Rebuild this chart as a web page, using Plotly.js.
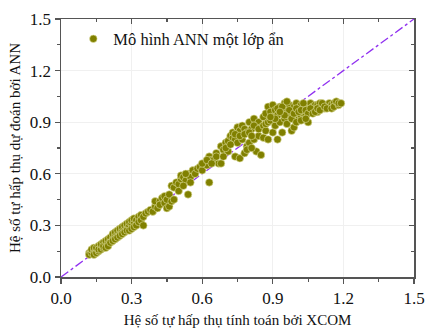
<!DOCTYPE html>
<html><head><meta charset="utf-8">
<script src="https://cdn.plot.ly/plotly-3.0.1.min.js"></script>
<style>html,body{margin:0;padding:0;background:#fff}#chart{width:427px;height:329px}</style>
</head><body><div id="chart"></div>
<script>
const seriesName = "Mô hình ANN một lớp ẩn";
// low band
const lowX = [0.12,0.12,0.13,0.13,0.13,0.14,0.14,0.14,0.15,0.15,0.15,0.16,0.16,0.16,0.17,0.17,0.17,0.18,0.18,0.18,0.19,0.19,0.19,0.20,0.20,0.20,0.21,0.21,0.21,0.22,0.22,0.22,0.23,0.23,0.23,0.24,0.24,0.24,0.25,0.25,0.25,0.26,0.26,0.26,0.27,0.27,0.27,0.28,0.28,0.28,0.29,0.29,0.29,0.30,0.30,0.30,0.31,0.31,0.31,0.32,0.32,0.33,0.33,0.34,0.34,0.35,0.35,0.36];
const lowY = [0.14,0.13,0.15,0.14,0.16,0.15,0.13,0.17,0.16,0.14,0.17,0.15,0.18,0.16,0.18,0.16,0.19,0.17,0.20,0.18,0.19,0.21,0.17,0.20,0.22,0.18,0.21,0.23,0.20,0.22,0.25,0.21,0.24,0.22,0.26,0.25,0.23,0.27,0.26,0.24,0.28,0.27,0.25,0.29,0.28,0.26,0.30,0.29,0.27,0.31,0.30,0.27,0.32,0.31,0.28,0.33,0.32,0.29,0.34,0.33,0.30,0.35,0.32,0.36,0.33,0.30,0.35,0.37];
// middle part
const midX = [0.37,0.38,0.39,0.40,0.40,0.41,0.42,0.42,0.43,0.44,0.44,0.45,0.45,0.46,0.46,0.47,0.47,0.48,0.48,0.49,0.50,0.51,0.51,0.52,0.53,0.54,0.54,0.55,0.56,0.57,0.58,0.59,0.60,0.61,0.62,0.63,0.63,0.64,0.65,0.66,0.67,0.68,0.68,0.69,0.70,0.71,0.71,0.72,0.73,0.73,0.74,0.74,0.75,0.75,0.76,0.76,0.77,0.77,0.78,0.78,0.79,0.79,0.80,0.80,0.81,0.82,0.82,0.83,0.83,0.84,0.84,0.85,0.85,0.86,0.86];
const midY = [0.38,0.39,0.38,0.41,0.44,0.40,0.44,0.42,0.46,0.47,0.43,0.40,0.45,0.41,0.48,0.44,0.53,0.45,0.52,0.55,0.54,0.57,0.59,0.58,0.56,0.48,0.60,0.58,0.62,0.60,0.63,0.64,0.62,0.66,0.65,0.55,0.70,0.68,0.68,0.72,0.66,0.66,0.76,0.74,0.78,0.79,0.73,0.82,0.81,0.84,0.70,0.80,0.87,0.78,0.69,0.85,0.88,0.80,0.72,0.86,0.76,0.84,0.78,0.90,0.86,0.92,0.80,0.73,0.88,0.90,0.82,0.87,0.71,0.81,0.93];
const mid2X = [0.50,0.52,0.53,0.55,0.60,0.62,0.64,0.66,0.69,0.70,0.72,0.74,0.76,0.78,0.79,0.80,0.81,0.81,0.82,0.84,0.86,0.87];
const mid2Y = [0.50,0.53,0.60,0.55,0.66,0.68,0.66,0.70,0.70,0.75,0.77,0.83,0.82,0.83,0.74,0.84,0.82,0.75,0.88,0.86,0.88,0.85];
// upper cluster
const highX = [0.87,0.87,0.88,0.88,0.88,0.89,0.89,0.90,0.90,0.90,0.91,0.91,0.92,0.92,0.93,0.93,0.94,0.94,0.95,0.95,0.96,0.96,0.97,0.97,0.98,0.98,0.99,0.99,1.00,1.00,1.01,1.01,1.02,1.02,1.03,1.03,1.04,1.04,1.05,1.05,1.06,1.06,1.07,1.07,1.08,1.08,1.09,1.09,1.10,1.10,1.11,1.12,1.12,1.13,1.14,1.14,1.15,1.16,1.17];
const highY = [0.95,0.89,0.99,0.80,0.90,0.91,0.96,0.93,0.84,1.00,0.97,0.88,0.80,0.94,0.99,0.90,0.84,0.96,1.01,0.92,0.98,0.89,1.00,0.94,0.85,0.96,0.87,0.99,0.95,1.01,0.92,0.98,0.93,1.00,0.97,0.95,0.99,0.94,0.90,1.00,0.96,1.01,0.99,0.97,0.98,1.00,0.96,1.00,0.98,1.01,0.99,1.00,0.98,1.00,0.99,1.01,1.00,1.01,1.00];
const high2X = [0.92,0.94,0.96,0.97,0.98,0.99,1.00,1.01,1.02,1.03,1.04,1.05,1.06,1.07,1.08,1.09,1.10,1.11,1.12,1.13,1.15,1.16,1.17,1.18,1.18,1.19,0.95,0.93,0.91,0.89,1.00,1.02,1.04];
const high2Y = [0.98,0.99,1.02,0.97,0.92,0.95,0.98,0.96,0.97,1.01,0.97,0.95,0.98,0.95,0.96,0.98,0.97,1.01,0.99,0.98,0.98,0.99,1.02,1.00,1.01,1.01,0.94,0.96,0.92,0.93,0.90,0.91,0.92];
const xcom = lowX.concat(midX, mid2X, highX, high2X);
const ann = lowY.concat(midY, mid2Y, highY, high2Y);

const refX = [0, 1.5];
const refY = [0, 1.5];
const tickVals = [0, 0.3, 0.6, 0.9, 1.2, 1.5];
const tickText = ["0.0", "0.3", "0.6", "0.9", "1.2", "1.5"];
const xTitle = "Hệ số tự hấp thụ tính toán bởi XCOM";
const yTitle = "Hệ số tự hấp thụ dự đoán bởi ANN";

const fam = "Liberation Serif, serif";
const font = {family: fam, size: 15, color: "#111"};
const tickFont = {family: fam, size: 17, color: "#111"};
const legFont = {family: fam, size: 16.5, color: "#111"};
const axColor = "#555";
const baseAxis = {
  range: [0, 1.5], tickvals: tickVals, ticktext: tickText,
  showline: true, linecolor: axColor, linewidth: 1.5,
  ticks: "outside", ticklen: 5, tickwidth: 1.2, tickcolor: axColor,
  showgrid: true, gridcolor: "#f0f0f0", gridwidth: 1, zeroline: false,
  minor: {ticks: "outside", ticklen: 3, tickwidth: 1.2, tickcolor: axColor, dtick: 0.15, tick0: 0, showgrid: false},
  tickfont: tickFont, fixedrange: true
};
const mirrorAxis = {
  range: [0, 1.5], tickvals: tickVals, showticklabels: false,
  showline: true, linecolor: axColor, linewidth: 1.5,
  ticks: "inside", ticklen: 5, tickwidth: 1.2, tickcolor: axColor,
  showgrid: false, zeroline: false,
  minor: {ticks: "inside", ticklen: 3, tickwidth: 1.2, tickcolor: axColor, dtick: 0.15, tick0: 0, showgrid: false}
};
const traces = [
  {x: refX, y: refY, mode: "lines", showlegend: false, hoverinfo: "skip",
   line: {color: "#9030f0", width: 1.3, dash: "dashdot"}},
  {x: xcom, y: ann, mode: "markers", name: seriesName, type: "scatter",
   marker: {color: "#808000", size: 7.5, line: {color: "rgba(225,225,160,0.85)", width: 0.7}}},
  {x: [], y: [], xaxis: "x2", yaxis: "y2", showlegend: false, hoverinfo: "skip"}
];
const layout = {
  width: 427, height: 329, paper_bgcolor: "#fff", plot_bgcolor: "#fff",
  margin: {l: 61, r: 13, t: 19, b: 52},
  font: font,
  xaxis: Object.assign({}, baseAxis, {title: {text: xTitle, font: font, standoff: 7}}),
  yaxis: Object.assign({}, baseAxis, {title: {text: yTitle, font: font, standoff: 5}}),
  xaxis2: Object.assign({}, mirrorAxis, {overlaying: "x", side: "top", anchor: "y2"}),
  yaxis2: Object.assign({}, mirrorAxis, {overlaying: "y", side: "right", anchor: "x2"}),
  legend: {x: 0.035, y: 0.99, xanchor: "left", yanchor: "top", bgcolor: "rgba(0,0,0,0)", font: legFont},
  showlegend: true
};
Plotly.newPlot("chart", traces, layout, {displayModeBar: false, staticPlot: true});
</script></body></html>
